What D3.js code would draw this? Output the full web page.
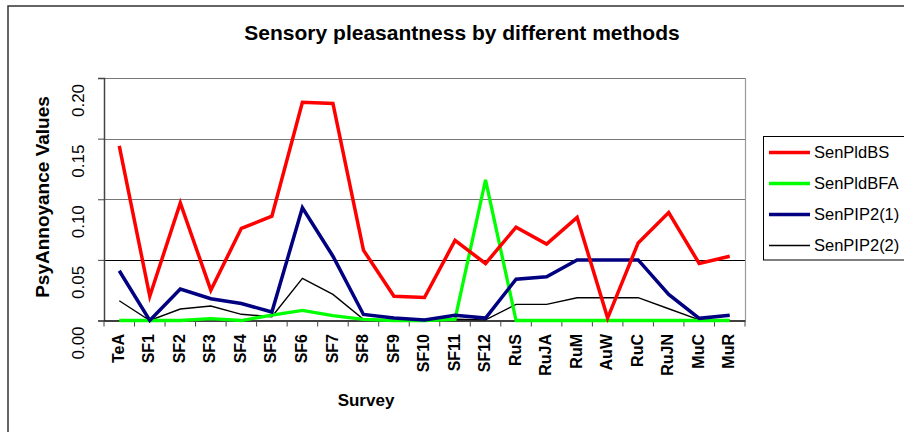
<!DOCTYPE html>
<html>
<head>
<meta charset="utf-8">
<script src="https://cdn.jsdelivr.net/npm/d3@7"></script>
<style>
  html, body { margin: 0; padding: 0; background: #fff; }
  svg { display: block; font-family: Arial, "Liberation Sans", sans-serif; }
</style>
</head>
<body>
<svg id="chart" width="904" height="432"></svg>
<script>
// Survey categories along the x axis
const surveys = ["TeA","SF1","SF2","SF3","SF4","SF5","SF6","SF7","SF8","SF9","SF10","SF11","SF12",
                 "RuS","RuJA","RuM","AuW","RuC","RuJN","MuC","MuR"];

// Series values (psy-annoyance)
const senPldBS  = [0.144,0.020,0.097,0.025,0.076,0.086,0.180,0.179,0.058,0.020,0.019,0.066,0.047,
                   0.077,0.063,0.085,0.002,0.064,0.089,0.047,0.053];
const senPldBFA = [0.000,0.000,0.000,0.0015,0.000,0.0045,0.0084,0.004,0.001,0.000,0.000,0.001,0.116,
                   0.000,0.000,0.000,0.000,0.000,0.000,0.000,0.000];
const senPIP2_1 = [0.041,0.000,0.026,0.018,0.014,0.007,0.093,0.053,0.005,0.002,0.0005,0.0043,0.002,
                   0.034,0.036,0.050,0.050,0.050,0.0215,0.0018,0.0043];
const senPIP2_2 = [0.0163,0.000,0.0095,0.012,0.0051,0.0031,0.0347,0.0215,0.001,0.0005,0.000,0.001,0.0005,
                   0.0133,0.0133,0.0188,0.0188,0.0188,0.0097,0.0005,0.000];

const yTicks = [0, 0.05, 0.10, 0.15, 0.20];

const seriesNames  = ["SenPldBS","SenPldBFA","SenPIP2(1)","SenPIP2(2)"];
const seriesValues = [senPldBS, senPldBFA, senPIP2_1, senPIP2_2];
const seriesColors = ["#ff0000","#00ff00","#000080","#000000"];
const seriesWidths = [3.5, 3.3, 3.5, 1.4];

const FONT = "Arial, 'Liberation Sans', sans-serif";
const svg = d3.select("#chart");
const plot = { left: 104, right: 745, top: 78, bottom: 320.5 };

const x = d3.scaleBand().domain(surveys).range([plot.left, plot.right]);
const y = d3.scaleLinear().domain([0, 0.20]).range([plot.bottom, plot.top]);

// Outer chart frame
svg.append("rect")
  .attr("x", 8).attr("y", 6).attr("width", 940).attr("height", 460)
  .attr("fill", "none").attr("stroke", "#333").attr("stroke-width", 1.5);

// Title
svg.append("text")
  .attr("x", 462).attr("y", 40)
  .attr("text-anchor", "middle")
  .style("font-size", "21px").style("font-weight", "bold")
  .text("Sensory pleasantness by different methods");

// Horizontal gridlines
svg.append("g").selectAll("line")
  .data(yTicks.filter(d => d > 0))
  .join("line")
  .attr("x1", plot.left).attr("x2", plot.right)
  .attr("y1", d => Math.round(y(d)) + 0.5).attr("y2", d => Math.round(y(d)) + 0.5)
  .attr("stroke", d => d === 0.05 ? "#000" : "#777")
  .attr("stroke-width", 1);

// Right plot border
svg.append("line")
  .attr("x1", plot.right + 0.5).attr("x2", plot.right + 0.5)
  .attr("y1", plot.top).attr("y2", plot.bottom)
  .attr("stroke", "#999").attr("stroke-width", 1.2);

// Y axis
const yAxis = d3.axisLeft(y).tickValues(yTicks).tickSize(6).tickFormat(d3.format(".2f"));
const gy = svg.append("g").attr("transform", `translate(${plot.left},0)`).call(yAxis);
gy.attr("font-size", null).attr("font-family", null);
gy.select(".domain").attr("stroke", "#444").attr("stroke-width", 1.5);
gy.selectAll(".tick line").attr("stroke", "#444");
gy.selectAll(".tick text")
  .style("font-size", "17px").style("font-family", FONT)
  .attr("fill", "#000")
  .attr("text-anchor", "middle")
  .attr("x", 0).attr("y", 0)
  .attr("transform", "translate(-26,22) rotate(-90)")
  .attr("dy", "0.35em");

// X axis
const xAxis = d3.axisBottom(x).tickSize(0).tickFormat("");
const gx = svg.append("g").attr("transform", `translate(0,${plot.bottom})`).call(xAxis);
gx.select(".domain").attr("stroke", "#000").attr("stroke-width", 1.5);

// Category boundary ticks
svg.append("g").selectAll("line")
  .data(d3.range(surveys.length + 1))
  .join("line")
  .attr("x1", i => plot.left + i * x.step()).attr("x2", i => plot.left + i * x.step())
  .attr("y1", plot.bottom).attr("y2", plot.bottom + 6)
  .attr("stroke", "#444");

// X category labels (rotated)
svg.append("g").selectAll("text")
  .data(surveys)
  .join("text")
  .attr("transform", d => `translate(${x(d) + x.bandwidth() / 2 - 1},334) rotate(-90)`)
  .attr("text-anchor", "end")
  .attr("dy", "0.35em")
  .style("font-size", "16px").style("font-weight", "bold")
  .text(d => d);

// Axis titles
svg.append("text")
  .attr("transform", "translate(42,197) rotate(-90)")
  .attr("text-anchor", "middle")
  .attr("dy", "0.35em")
  .style("font-size", "19px").style("font-weight", "bold")
  .text("PsyAnnoyance Values");

svg.append("text")
  .attr("x", 366).attr("y", 406)
  .attr("text-anchor", "middle")
  .style("font-size", "17px").style("font-weight", "bold")
  .text("Survey");

// Series lines
const line = d3.line()
  .x((d, i) => x(surveys[i]) + x.bandwidth() / 2)
  .y(d => y(d));

const drawOrder = [3, 1, 2, 0];
svg.append("g").selectAll("path")
  .data(drawOrder)
  .join("path")
  .attr("d", k => line(seriesValues[k]))
  .attr("fill", "none")
  .attr("stroke", k => seriesColors[k])
  .attr("stroke-width", k => seriesWidths[k])
  .attr("stroke-linejoin", "miter");

// Legend
const legend = svg.append("g");
legend.append("rect")
  .attr("x", 763.5).attr("y", 136.5).attr("width", 160).attr("height", 123.5)
  .attr("fill", "#fff").attr("stroke", "#000").attr("stroke-width", 1);

const rows = legend.selectAll("g.row")
  .data(seriesNames)
  .join("g")
  .attr("class", "row")
  .attr("transform", (d, i) => `translate(0,${152.5 + i * 31})`);

rows.append("line")
  .attr("x1", 769).attr("x2", 810)
  .attr("y1", 0).attr("y2", 0)
  .attr("stroke", (d, i) => seriesColors[i])
  .attr("stroke-width", (d, i) => seriesWidths[i]);

rows.append("text")
  .attr("x", 814).attr("y", 0)
  .attr("dy", "0.35em")
  .style("font-size", "16.5px")
  .text(d => d);
</script>
</body>
</html>
